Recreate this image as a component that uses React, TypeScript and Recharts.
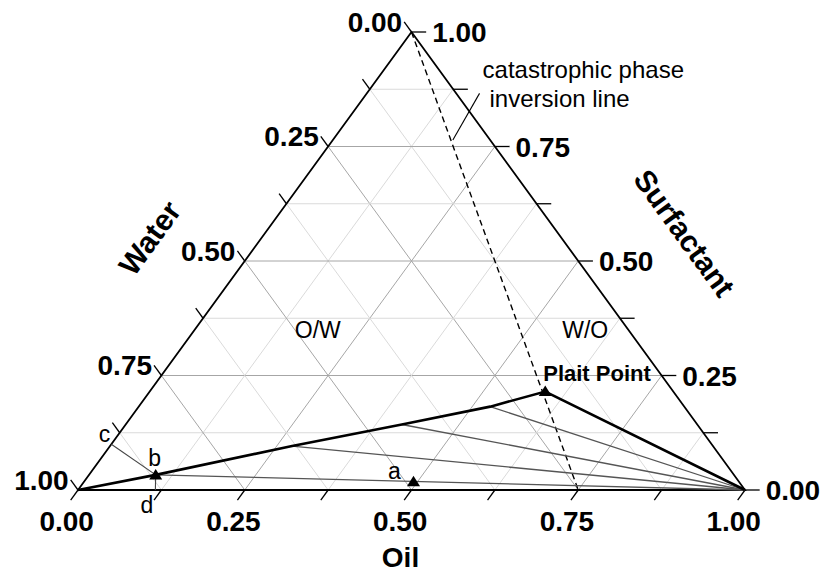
import React from 'react'
import { ScatterChart, Scatter, XAxis, YAxis } from 'recharts'

type Comp = { oil: number; surf: number }

// compositions are oil / surfactant fractions, water = 1 - oil - surfactant
const gridLevels = [0.125, 0.25, 0.375, 0.5, 0.625, 0.75, 0.875]
const majorLevels = [0.25, 0.5, 0.75]
const tickLevels = [0, 0.125, 0.25, 0.375, 0.5, 0.625, 0.75, 0.875, 1]
const labelLevels = [0, 0.25, 0.5, 0.75, 1]
const tickText = ['0.00', '0.25', '0.50', '0.75', '1.00']

// binodal: water corner -> water-rich branch -> plait point -> oil corner
const binodal: Comp[] = [
  { oil: 0, surf: 0 },
  { oil: 0.1, surf: 0.033 },
  { oil: 0.273, surf: 0.096 },
  { oil: 0.414, surf: 0.143 },
  { oil: 0.527, surf: 0.182 },
  { oil: 0.593, surf: 0.215 },
  { oil: 1, surf: 0 },
]

// tie lines: water-rich end, they all run to the oil corner
const tieStarts: Comp[] = [
  { oil: 0.1, surf: 0.033 },
  { oil: 0.273, surf: 0.096 },
  { oil: 0.414, surf: 0.143 },
  { oil: 0.527, surf: 0.182 },
]
const oilCorner: Comp = { oil: 1, surf: 0 }

const markers = [
  { text: 'b', oil: 0.1, surf: 0.033 },
  { text: 'a', oil: 0.494, surf: 0.018 },
  { text: 'Plait Point', oil: 0.593, surf: 0.215 },
]

// catastrophic phase inversion line + its callout
const inversion: Comp[] = [{ oil: 0, surf: 1 }, { oil: 0.75, surf: 0 }]
const leader: Comp[] = [{ oil: 0.18, surf: 0.764 }, { oil: 0.169, surf: 0.866 }]

// construction lines c-b and b-d
const pointC = { text: 'c', oil: 0, surf: 0.1 }
const pointD = { text: 'd', oil: 0.116, surf: 0 }

const regions = [
  { text: 'O/W', oil: 0.185, surf: 0.349 },
  { text: 'W/O', oil: 0.586, surf: 0.349 },
]

// ternary -> cartesian (data units, Recharts scales do the rest)
const tern = (oil: number, surf: number) => ({ x: oil + surf / 2, y: surf })
const tp = (c: Comp) => tern(c.oil, c.surf)

const T = 0.022 // tick length
const FONT = '"Liberation Sans", Arial, Helvetica, sans-serif'
const X_DOMAIN = [-78 / 667, -78 / 667 + 828 / 667]
const Y_DOMAIN = [1 + 32 / 458 - 575 / 458, 1 + 32 / 458]

const noDot = () => <g />

type TxtOpt = { dx?: number; dy?: number; anchor?: string; size: number; bold?: boolean; rotate?: number }
const textShape = (o: TxtOpt) => (p: any) => {
  const x = p.cx + (o.dx || 0)
  const y = p.cy + (o.dy || 0)
  return (
    <text
      x={x}
      y={y}
      textAnchor={o.anchor || 'middle'}
      dominantBaseline={o.rotate !== undefined ? 'central' : undefined}
      transform={o.rotate !== undefined ? `rotate(${o.rotate} ${x} ${y})` : undefined}
      fontFamily={FONT}
      fontSize={o.size}
      fontWeight={o.bold ? 'bold' : 'normal'}
      fill="#000"
    >
      {p.payload.text}
    </text>
  )
}

const triShape = (p: any) => (
  <polygon points={`${p.cx},${p.cy - 6} ${p.cx + 6.5},${p.cy + 4.5} ${p.cx - 6.5},${p.cy + 4.5}`} fill="#000" />
)

const seg = (key: string, pts: { x: number; y: number }[], line: object) => (
  <Scatter key={key} data={pts} line={line} shape={noDot} isAnimationActive={false} />
)

const App = () => {
  const gridLines: React.ReactNode[] = []
  gridLevels.forEach((g) => {
    const major = majorLevels.includes(g)
    const style = { stroke: major ? '#a6a6a6' : '#dadada', strokeWidth: 1 }
    gridLines.push(seg(`s${g}`, [tern(0, g), tern(1 - g, g)], style))
    gridLines.push(seg(`o${g}`, [tern(g, 0), tern(g, 1 - g)], style))
    gridLines.push(seg(`w${g}`, [tern(1 - g, 0), tern(0, 1 - g)], style))
  })

  const tickStyle = { stroke: '#000', strokeWidth: 1.3 }
  const ticks: React.ReactNode[] = []
  tickLevels.forEach((v) => {
    ticks.push(seg(`to${v}`, [tern(v, 0), tern(v, -T)], tickStyle))
    ticks.push(seg(`tw${v}`, [tern(0, 1 - v), tern(-T, 1 - v + T)], tickStyle))
    ticks.push(seg(`ts${v}`, [tern(1 - v, v), tern(1 - v + T, v)], tickStyle))
  })

  const oilLabels = labelLevels.map((v, i) => ({ ...tern(v, -T), text: tickText[i] }))
  const waterLabels = labelLevels.map((v, i) => ({ ...tern(-T, 1 - v + T), text: tickText[i] }))
  const surfLabels = labelLevels.map((v, i) => ({ ...tern(1 - v + T, v), text: tickText[i] }))

  return (
    <div style={{ position: 'absolute', left: 0, top: 0, background: '#fff' }}>
      <ScatterChart width={828} height={575} margin={{ top: 0, right: 0, bottom: 0, left: 0 }}>
        <XAxis type="number" dataKey="x" domain={X_DOMAIN} allowDataOverflow hide />
        <YAxis type="number" dataKey="y" domain={Y_DOMAIN} allowDataOverflow hide />

        {gridLines}

        {seg('sides', [tern(0, 0), tern(1, 0), tern(0, 1), tern(0, 0)], { stroke: '#000', strokeWidth: 1.8 })}
        {ticks}

        {seg('inversion', inversion.map(tp), { stroke: '#000', strokeWidth: 1.4, strokeDasharray: '6 4' })}
        {seg('leader', leader.map(tp), { stroke: '#000', strokeWidth: 1.1 })}

        {tieStarts.map((c, i) => seg(`tie${i}`, [tp(c), tp(oilCorner)], { stroke: '#555', strokeWidth: 1.3 }))}
        {seg('binodal', binodal.map(tp), { stroke: '#000', strokeWidth: 2.6 })}

        {seg('cb', [tp(pointC), tp(markers[0])], { stroke: '#444', strokeWidth: 1.1 })}
        {seg('bd', [tp(markers[0]), tp(pointD)], { stroke: '#444', strokeWidth: 1.1 })}

        <Scatter data={markers.map(m => ({ ...tp(m), text: m.text }))} shape={triShape} isAnimationActive={false} />

        {/* point letters */}
        <Scatter data={[{ ...tp(markers[0]), text: 'b' }]} shape={textShape({ dx: -1, dy: -9, size: 23 })} isAnimationActive={false} />
        <Scatter data={[{ ...tp(markers[1]), text: 'a' }]} shape={textShape({ dx: -19, dy: -3, size: 23 })} isAnimationActive={false} />
        <Scatter data={[{ ...tp(markers[2]), text: 'Plait Point' }]} shape={textShape({ dx: -2, dy: -11, size: 22, bold: true, anchor: 'start' })} isAnimationActive={false} />
        <Scatter data={[{ ...tp(pointC), text: pointC.text }]} shape={textShape({ dx: -1, dy: -2, size: 23, anchor: 'end' })} isAnimationActive={false} />
        <Scatter data={[{ ...tp(pointD), text: pointD.text }]} shape={textShape({ dx: -2, dy: 23, size: 23, anchor: 'end' })} isAnimationActive={false} />

        <Scatter data={regions.map(r => ({ ...tp(r), text: r.text }))} shape={textShape({ dy: 8, size: 23 })} isAnimationActive={false} />

        <Scatter data={[{ ...tp(leader[1]), text: 'catastrophic phase' }]} shape={textShape({ dx: 3, dy: -15, size: 24, anchor: 'start' })} isAnimationActive={false} />
        <Scatter data={[{ ...tp(leader[1]), text: 'inversion line' }]} shape={textShape({ dx: 10, dy: 14, size: 24, anchor: 'start' })} isAnimationActive={false} />

        {/* tick labels */}
        <Scatter data={oilLabels} shape={textShape({ dx: -4, dy: 31, size: 28, bold: true })} isAnimationActive={false} />
        <Scatter data={waterLabels} shape={textShape({ dx: -2, dy: 10, size: 28, bold: true, anchor: 'end' })} isAnimationActive={false} />
        <Scatter data={surfLabels} shape={textShape({ dx: 6, dy: 10, size: 28, bold: true, anchor: 'start' })} isAnimationActive={false} />

        {/* axis titles */}
        <Scatter data={[{ ...tern(0.5, 0), text: 'Oil' }]} shape={textShape({ dx: -11, dy: 77, size: 28, bold: true })} isAnimationActive={false} />
        <Scatter data={[{ ...tern(0, 0.5), text: 'Water' }]} shape={textShape({ dx: -95, dy: -23, size: 30, bold: true, rotate: -54 })} isAnimationActive={false} />
        <Scatter data={[{ ...tern(0.5, 0.5), text: 'Surfactant' }]} shape={textShape({ dx: 106, dy: -28, size: 30, bold: true, rotate: 54 })} isAnimationActive={false} />
      </ScatterChart>
    </div>
  )
}

export default App
